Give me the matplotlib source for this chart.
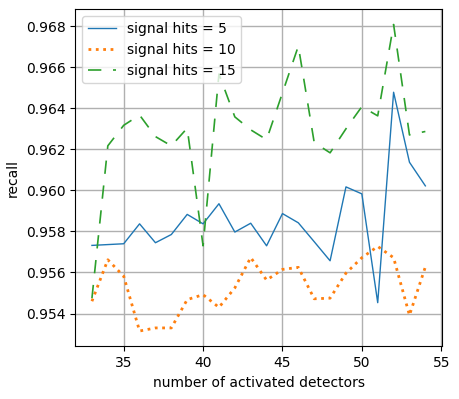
import matplotlib
matplotlib.use("Agg")
import matplotlib.pyplot as plt

detectors = list(range(33, 55))

hits5 = [0.95732, 0.95736, 0.95740, 0.95837, 0.95745, 0.95785, 0.95883, 0.95837,
         0.95935, 0.95797, 0.95840, 0.95730, 0.95887, 0.95842, 0.95750, 0.95657,
         0.96017, 0.95983, 0.95453, 0.96478, 0.96137, 0.96022]

hits10 = [0.95460, 0.95662, 0.95582, 0.95315, 0.95330, 0.95330, 0.95468, 0.95492,
          0.95430, 0.95525, 0.95673, 0.95563, 0.95615, 0.95625, 0.95472, 0.95475,
          0.95597, 0.95672, 0.95727, 0.95672, 0.95392, 0.95627]

hits15 = [0.95475, 0.96217, 0.96317, 0.96367, 0.96262, 0.96217, 0.96303, 0.95730,
          0.96567, 0.96358, 0.96295, 0.96247, 0.96475, 0.96703, 0.96233, 0.96183,
          0.96300, 0.96408, 0.96363, 0.96808, 0.96270, 0.96287]

fig, ax = plt.subplots(figsize=(4.59, 3.99), dpi=100)
fig.subplots_adjust(left=0.164, right=0.963, bottom=0.132, top=0.977)

ax.plot(detectors, hits5, color="#1f77b4", lw=1.0, label="signal hits = 5")
ax.plot(detectors, hits10, color="#ff7f0e", lw=2.0, linestyle=":", label="signal hits = 10")
ax.plot(detectors, hits15, color="#2ca02c", lw=1.2, linestyle=(0, (8, 7)), label="signal hits = 15")

ax.set_xlabel("number of activated detectors")
ax.set_ylabel("recall")
ax.grid(True, color="#b0b0b0", lw=1.0)
ax.legend(loc="upper left")

fig.savefig("out.png", dpi=100)
